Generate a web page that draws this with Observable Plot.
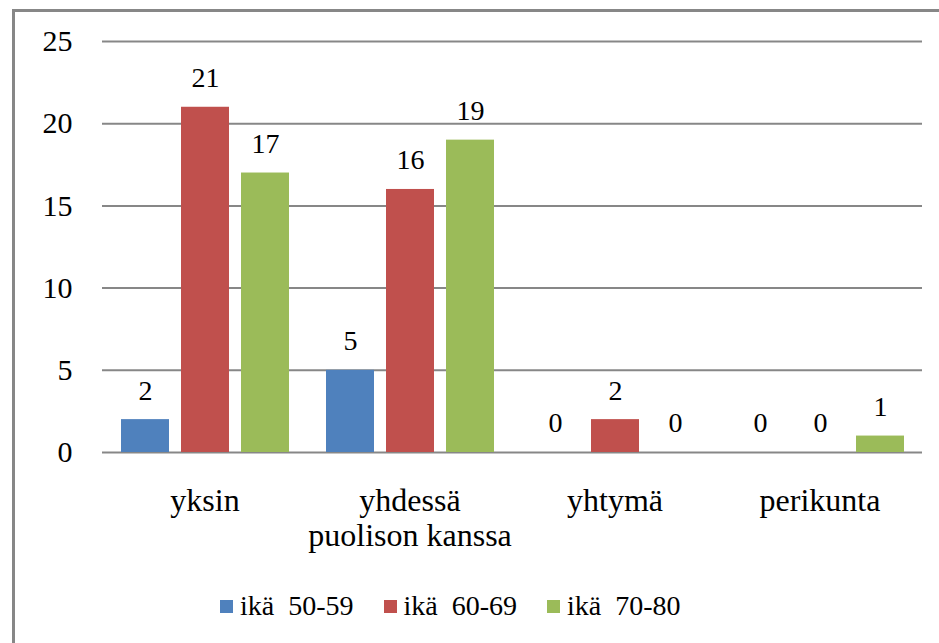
<!DOCTYPE html>
<html>
<head>
<meta charset="utf-8">
<script src="https://cdn.jsdelivr.net/npm/d3@7"></script>
<script src="https://cdn.jsdelivr.net/npm/@observablehq/plot@0.6"></script>
<style>
  html, body { margin: 0; padding: 0; background: #fff; width: 939px; height: 643px; overflow: hidden; }
  #frame { position: absolute; left: 12px; top: 9px; width: 1000px; height: 700px; border: 3px solid #878787; box-sizing: border-box; }
  #chart { position: absolute; left: 0; top: 0; }
  #legend { position: absolute; left: 220px; top: 590px; display: flex; font-family: 'Liberation Serif', Tinos, 'Times New Roman', Times, 'Nimbus Roman', 'DejaVu Serif', 'Noto Serif', serif; font-size: 28px; color: #000; }
  .item { display: flex; align-items: center; white-space: pre; }
  .sw { width: 13px; height: 13px; margin-right: 7px; }
</style>
</head>
<body>
<div id="frame"></div>
<div id="chart"></div>
<div id="legend"></div>
<script>
const categories = ["yksin", "yhdessä\npuolison kanssa", "yhtymä", "perikunta"];
const seriesNames = ["ikä  50-59", "ikä  60-69", "ikä  70-80"];
const values5059 = [2, 5, 0, 0];
const values6069 = [21, 16, 2, 0];
const values7080 = [17, 19, 0, 1];
const colors = ["#4F81BD", "#C0504D", "#9BBB59"];
const yTicks = [0, 5, 10, 15, 20, 25];

const seriesValues = [values5059, values6069, values7080];
const data = [];
categories.forEach((c, i) => {
  seriesNames.forEach((s, j) => {
    data.push({ cat: c, ser: s, v: seriesValues[j][i] });
  });
});

const font = "'Liberation Serif', Tinos, 'Times New Roman', Times, 'Nimbus Roman', 'DejaVu Serif', 'Noto Serif', serif";

const chart = Plot.plot({
  width: 939,
  height: 575,
  marginLeft: 102,
  marginRight: 17,
  marginTop: 41,
  marginBottom: 123,
  style: { fontFamily: font, background: "transparent", color: "#000" },
  fx: { domain: categories, padding: 0, label: null },
  x: { domain: seriesNames, paddingInner: 0.2, paddingOuter: 0.308, axis: null },
  y: { domain: [0, 25], label: null },
  color: { domain: seriesNames, range: colors },
  marks: [
    Plot.ruleY(yTicks, { stroke: "#878787", strokeWidth: 2 }),
    Plot.barY(data, { fx: "cat", x: "ser", y: "v", fill: "ser" }),
    Plot.text(data, { fx: "cat", x: "ser", y: "v", text: d => String(d.v), lineAnchor: "middle", dy: -29, fontSize: 28, fontFamily: font, fill: "#000" }),
    Plot.axisY({ ticks: yTicks, tickSize: 0, tickPadding: 30, fontSize: 30, fontFamily: font, label: null, tickFormat: d => String(d) }),
    Plot.axisFx({ anchor: "bottom", tickSize: 0, tickPadding: 33, fontSize: 32, fontFamily: font, lineHeight: 1.1, label: null })
  ]
});
document.getElementById("chart").appendChild(chart);

const legend = document.getElementById("legend");
const gaps = [0, 30, 30];
seriesNames.forEach((s, j) => {
  const item = document.createElement("div");
  item.className = "item";
  item.style.marginLeft = gaps[j] + "px";
  const sw = document.createElement("div");
  sw.className = "sw";
  sw.style.background = colors[j];
  const t = document.createElement("span");
  t.textContent = s;
  item.appendChild(sw);
  item.appendChild(t);
  legend.appendChild(item);
});
</script>
</body>
</html>
